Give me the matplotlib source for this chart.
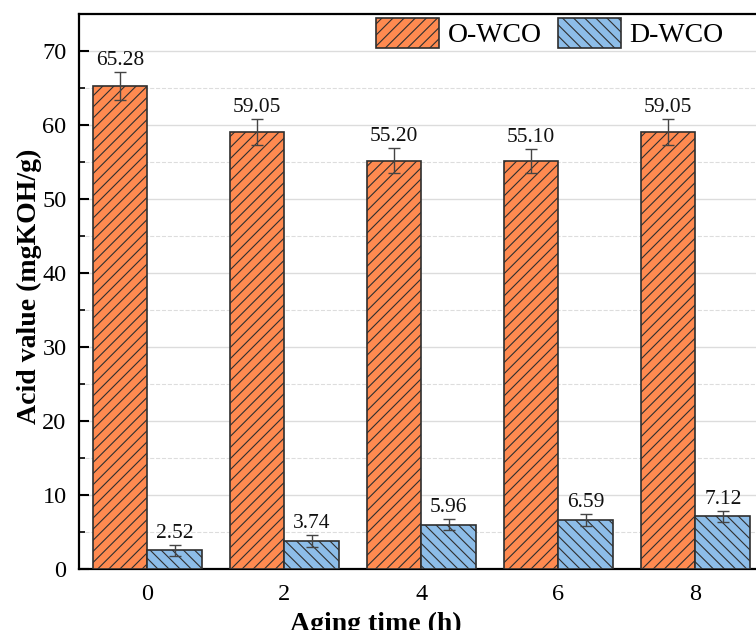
import matplotlib
matplotlib.use("Agg")
import matplotlib.pyplot as plt
import numpy as np
from matplotlib.ticker import MultipleLocator

plt.rcParams['font.family'] = ['Liberation Serif', 'DejaVu Serif']
plt.rcParams['hatch.linewidth'] = 0.8

# Data
aging_time = [0, 2, 4, 6, 8]
owco_values = [65.28, 59.05, 55.20, 55.10, 59.05]
owco_errors = [1.9, 1.8, 1.7, 1.65, 1.8]
dwco_values = [2.52, 3.74, 5.96, 6.59, 7.12]
dwco_errors = [0.75, 0.8, 0.75, 0.78, 0.75]
series_names = ['O-WCO', 'D-WCO']

orange = '#FF8A50'
blue = '#8DBDE8'
edge = '#2F2F2F'
bar_w = 0.8

fig = plt.figure(figsize=(7.56, 6.3), dpi=100)
ax = fig.add_axes([0.1045, 0.0968, 0.906, 0.881])

x = np.array(aging_time, dtype=float)
ax.bar(x - bar_w / 2, owco_values, width=bar_w, color=orange,
       edgecolor=edge, linewidth=1.2, hatch='///', label=series_names[0], zorder=3)
ax.bar(x + bar_w / 2, dwco_values, width=bar_w, color=blue,
       edgecolor=edge, linewidth=1.2, hatch='\\\\\\', label=series_names[1], zorder=3)

ax.errorbar(x - bar_w / 2, owco_values, yerr=owco_errors, fmt='none',
            ecolor='#444444', elinewidth=1.0, capsize=4, capthick=1.0, zorder=4)
ax.errorbar(x + bar_w / 2, dwco_values, yerr=dwco_errors, fmt='none',
            ecolor='#444444', elinewidth=1.0, capsize=4, capthick=1.0, zorder=4)

for xi, v, e in zip(x - bar_w / 2, owco_values, owco_errors):
    ax.annotate(f'{v:.2f}', (xi, v + e), xytext=(0, 1.5), textcoords='offset points',
                ha='center', va='bottom', fontsize=15.5, color='#111111', zorder=5)
for xi, v, e in zip(x + bar_w / 2, dwco_values, dwco_errors):
    ax.annotate(f'{v:.2f}', (xi, v + e), xytext=(0, 1.5), textcoords='offset points',
                ha='center', va='bottom', fontsize=15.5, color='#111111', zorder=5)

ax.set_xlim(-1, 9)
ax.set_ylim(0, 75)
ax.set_xticks(aging_time)
ax.yaxis.set_major_locator(MultipleLocator(10))
ax.yaxis.set_minor_locator(MultipleLocator(5))

ax.set_axisbelow(True)
ax.grid(axis='y', which='major', color='#DCDCDC', linestyle='-', linewidth=1.0)
ax.grid(axis='y', which='minor', color='#DDDDDD', linestyle='--', linewidth=0.8)

ax.tick_params(axis='both', which='major', direction='in', length=7, width=1.5,
               labelsize=17.5, pad=9)
ax.tick_params(axis='y', which='minor', direction='in', length=4, width=1.2)
ax.tick_params(axis='x', which='major', pad=11)

for s in ax.spines.values():
    s.set_linewidth(1.6)

ax.set_xlabel('Aging time (h)', fontsize=20, fontweight='bold')
ax.set_ylabel('Acid value (mgKOH/g)', fontsize=20, fontweight='bold')
ax.xaxis.set_label_coords(0.434, -0.077)
ax.yaxis.set_label_coords(-0.054, 0.51)

ax.legend(loc='upper left', bbox_to_anchor=(376 / 756, 1 - 18 / 630),
          bbox_transform=fig.transFigure, ncol=2, frameon=False, fontsize=20,
          handlelength=2.27, handleheight=1.3, handletextpad=0.3,
          columnspacing=0.6, borderpad=0, borderaxespad=0)

fig.savefig('out.png', dpi=100)
